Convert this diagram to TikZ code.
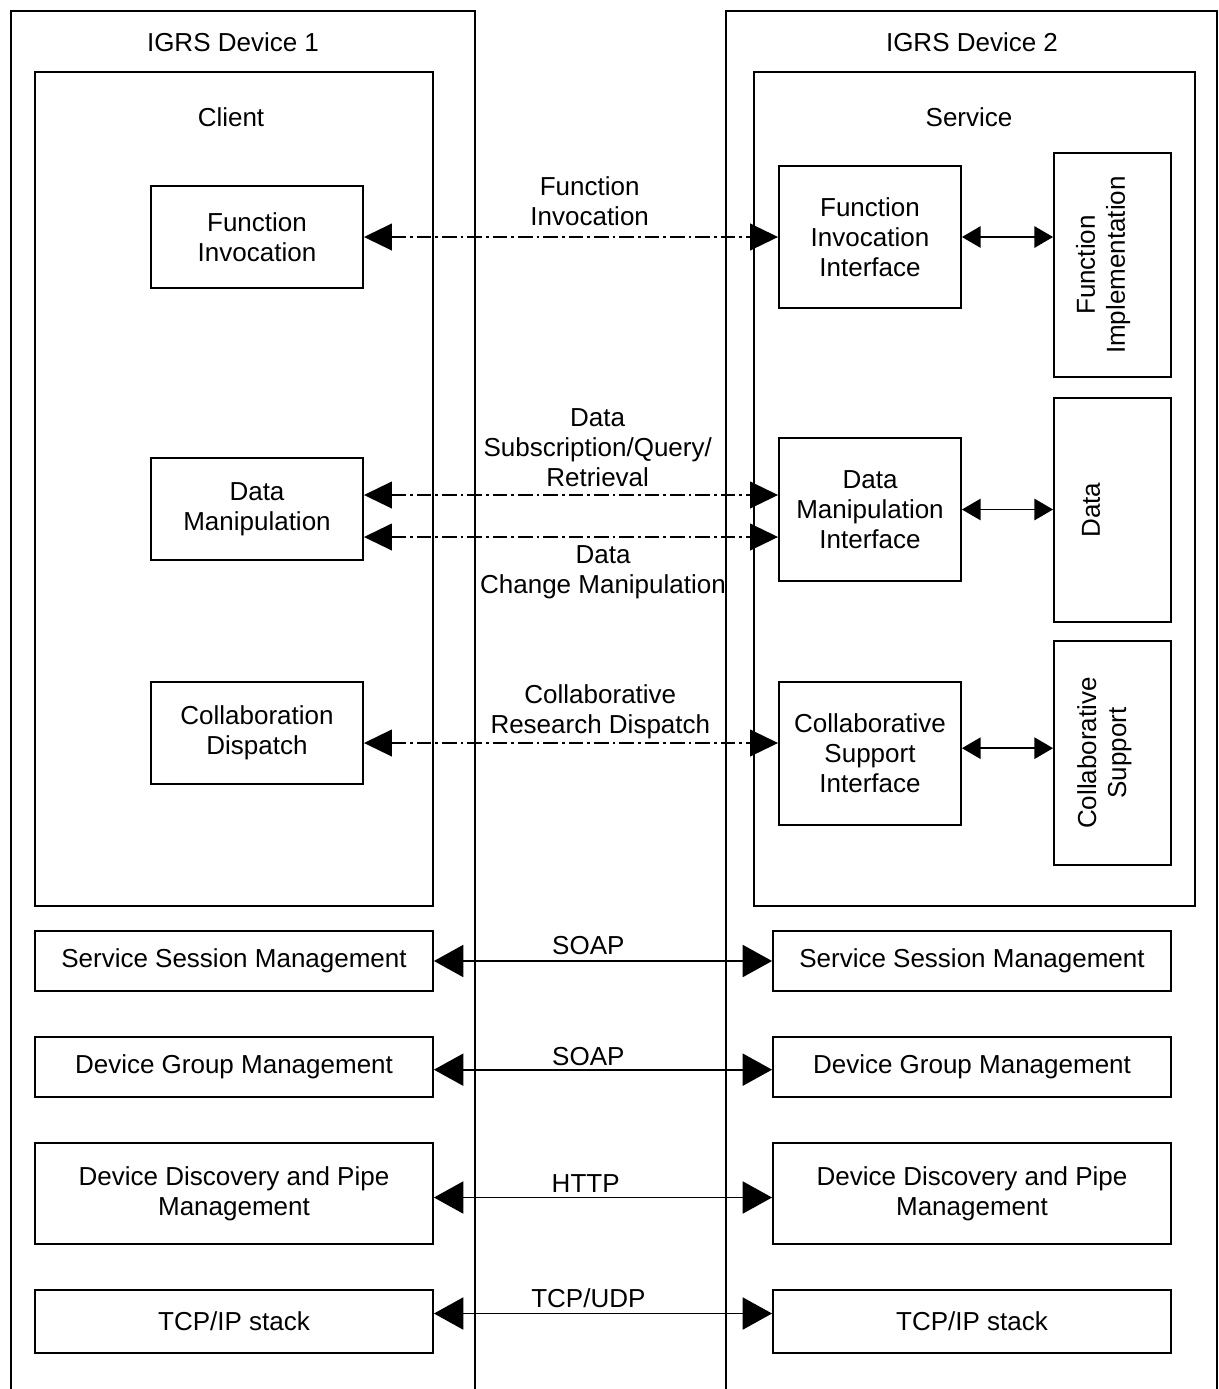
\documentclass[tikz,border=0pt]{standalone}
\usepackage{fontspec}
\setmainfont{Liberation Sans}
\usetikzlibrary{arrows.meta,positioning,calc}

\begin{document}
\begin{tikzpicture}[
  x=0.75pt, y=-0.75pt,
  font=\fontsize{19.5}{22.5}\selectfont,
  box/.style={draw, line width=1.4pt, inner sep=0pt, align=center},
  wh/.style 2 args={minimum width=#1*0.75pt, minimum height=#2*0.75pt},
  dev/.style={line width=1.4pt},
  txt/.style={align=center, inner sep=1pt},
  call/.style={<->, >={Triangle[length=21pt,width=20pt]}, line width=1.5pt,
    dash pattern=on 11pt off 3pt on 2pt off 3pt},
  link/.style={<->, >={Triangle[length=22pt,width=24pt]}, line width=1.3pt},
  local/.style={<->, >={Triangle[length=14pt,width=16pt]}, line width=1.3pt}
]
  \useasboundingbox (0,0) rectangle (1218,1389);

  % the two devices (open at the bottom)
  \draw[dev] (11,1389) |- (475,11) -- (475,1389);
  \draw[dev] (726,1389) |- (1217,11) -- (1217,1389);
  \node[txt] (dev1) at (233,42) {IGRS Device 1};
  \node[txt] (dev2) at (972,42) {IGRS Device 2};

  % client side
  \node[box, wh={398}{834}] (client) at (234,489) {};
  \node[txt] (clientlbl) at (231,117) {Client};
  \node[box, wh={212}{102}] (finv) at (257,237) {Function\\Invocation};
  \node[box, wh={212}{102}] (dman) at (257,509) {Data\\Manipulation};
  \node[box, wh={212}{102}] (cdisp) at (257,733) {Collaboration\\Dispatch};

  % service side
  \node[box, wh={441}{834}] (service) at (974.5,489) {};
  \node[txt] (servicelbl) at (969,117) {Service};
  \node[box, wh={182}{142}] (fif) at (870,237) {Function\\Invocation\\Interface};
  \node[box, wh={182}{143}] (dmif) at (870,509.5) {Data\\Manipulation\\Interface};
  \node[box, wh={182}{143}] (csif) at (870,753.5) {Collaborative\\Support\\Interface};

  \node[box, wh={117}{224}] (fimpl) at (1112.5,265) {};
  \node[txt, rotate=90] (fimpllbl) at ([xshift=-7pt]fimpl.center) {Function\\Implementation};
  \node[box, wh={117}{224}] (data) at (1112.5,510) {};
  \node[txt, rotate=90] (datalbl) at ([xshift=-16pt]data.center) {Data};
  \node[box, wh={117}{224}] (csup) at (1112.5,753) {};
  \node[txt, rotate=90] (csuplbl) at ([xshift=-6pt]csup.center) {Collaborative\\Support};

  % lower layers
  \node[box, wh={398}{60}] (ssm1) at (234,961) {Service Session Management};
  \node[box, wh={398}{60}] (ssm2) at (972,961) {Service Session Management};
  \node[box, wh={398}{60}] (dgm1) at (234,1067) {Device Group Management};
  \node[box, wh={398}{60}] (dgm2) at (972,1067) {Device Group Management};
  \node[box, wh={398}{101}] (ddp1) at (234,1193.5) {Device Discovery and Pipe\\Management};
  \node[box, wh={398}{101}] (ddp2) at (972,1193.5) {Device Discovery and Pipe\\Management};
  \node[box, wh={398}{63}] (tcp1) at (234,1321.5) {TCP/IP stack};
  \node[box, wh={398}{63}] (tcp2) at (972,1321.5) {TCP/IP stack};

  % client <-> service
  \draw[call] (finv.east) -- (finv.east -| fif.west)
    node[txt, midway, above=6.5pt, xshift=14pt] {Function\\Invocation};
  \draw[call] ([yshift=10.5pt]dman.east) -- ([yshift=10.5pt]dman.east -| dmif.west)
    node[txt, midway, above=4.5pt, xshift=20pt] {Data\\Subscription/Query/\\Retrieval};
  \draw[call] ([yshift=-21pt]dman.east) -- ([yshift=-21pt]dman.east -| dmif.west)
    node[txt, midway, below=5pt, xshift=24pt] {Data\\Change Manipulation};
  \draw[call] ([yshift=-7.5pt]cdisp.east) -- ([yshift=-7.5pt]cdisp.east -| csif.west)
    node[txt, midway, above=1.5pt, xshift=22pt] {Collaborative\\Research Dispatch};

  % interface <-> implementation
  \draw[local] (fif.east) -- (fif.east -| fimpl.west);
  \draw[local] (dmif.east) -- (dmif.east -| data.west);
  \draw[local] ([yshift=4pt]csif.east) -- ([yshift=4pt]csif.east -| csup.west);

  % protocols
  \draw[link] (ssm1.east) -- (ssm2.west)
    node[txt, midway, above=3pt, xshift=-11pt] {SOAP};
  \draw[link] ([yshift=-2pt]dgm1.east) -- ([yshift=-2pt]dgm2.west)
    node[txt, midway, above=1pt, xshift=-11pt] {SOAP};
  \draw[link] ([yshift=-3pt]ddp1.east) -- ([yshift=-3pt]ddp2.west)
    node[txt, midway, above=2pt, xshift=-13pt] {HTTP};
  \draw[link] ([yshift=6pt]tcp1.east) -- ([yshift=6pt]tcp2.west)
    node[txt, midway, above=3pt, xshift=-11pt] {TCP/UDP};
\end{tikzpicture}
\end{document}
